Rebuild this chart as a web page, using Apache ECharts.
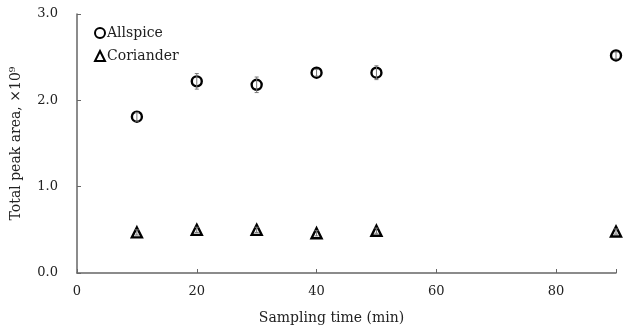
<!DOCTYPE html>
<html>
<head>
<meta charset="utf-8">
<script src="https://cdn.jsdelivr.net/npm/echarts@6/dist/echarts.min.js"></script>
<style>
html, body { margin: 0; padding: 0; background: #fff; }
#main { width: 624px; height: 332px; }
</style>
</head>
<body>
<div id="main"></div>
<script>
// sampling times (min)
var times = [10, 20, 30, 40, 50, 90];
// total peak area, x10^9
var allspice = [1.81, 2.22, 2.18, 2.32, 2.32, 2.52];
var allspiceErr = [0.05, 0.09, 0.09, 0.04, 0.08, 0.04];
var coriander = [0.47, 0.50, 0.50, 0.46, 0.49, 0.48];
var corianderErr = [0.03, 0.03, 0.03, 0.03, 0.03, 0.03];
var xTicks = [0, 20, 40, 60, 80];
var yTicks = [0.0, 1.0, 2.0, 3.0];

var font = '"DejaVu Serif", "Liberation Serif", serif';

var myChart = echarts.init(document.getElementById('main'));

function pairs(xs, ys) {
    var out = [];
    for (var i = 0; i < xs.length; i++) out.push([xs[i], ys[i]]);
    return out;
}
function errData(xs, ys, es) {
    var out = [];
    for (var i = 0; i < xs.length; i++) out.push([xs[i], ys[i] - es[i], ys[i] + es[i]]);
    return out;
}
function errBar(params, api) {
    var lo = api.coord([api.value(0), api.value(1)]);
    var hi = api.coord([api.value(0), api.value(2)]);
    return {
        type: 'group',
        children: [
            { type: 'line', shape: { x1: lo[0], y1: lo[1], x2: hi[0], y2: hi[1] }, style: { stroke: '#777', lineWidth: 1 } },
            { type: 'line', shape: { x1: lo[0] - 2, y1: lo[1], x2: lo[0] + 2, y2: lo[1] }, style: { stroke: '#777', lineWidth: 1 } },
            { type: 'line', shape: { x1: hi[0] - 2, y1: hi[1], x2: hi[0] + 2, y2: hi[1] }, style: { stroke: '#777', lineWidth: 1 } }
        ]
    };
}

var option = {
    animation: false,
    grid: { left: 77, right: 8, top: 14, bottom: 59 },
    legend: {
        orient: 'vertical',
        left: 89,
        top: 21,
        itemGap: 9,
        itemWidth: 10,
        itemHeight: 10,
        textStyle: { fontFamily: font, fontSize: 14, color: '#222', padding: [0, 0, 0, -3] },
        data: [
            { name: 'Allspice', icon: 'circle', itemStyle: { color: '#fff', borderColor: '#000', borderWidth: 2, opacity: 1 } },
            { name: 'Coriander', icon: 'triangle', itemStyle: { color: '#fff', borderColor: '#000', borderWidth: 2, opacity: 1 } }
        ]
    },
    xAxis: {
        type: 'value',
        min: 0,
        max: 90,
        interval: 20,
        name: 'Sampling time (min)',
        nameLocation: 'middle',
        nameGap: 38,
        nameTextStyle: { fontFamily: font, fontSize: 14, color: '#222', padding: [0, 30, 0, 0] },
        axisLine: { lineStyle: { color: '#666', width: 1.5 } },
        axisTick: { inside: true, length: 4, lineStyle: { color: '#666' } },
        axisLabel: {
            fontFamily: font, fontSize: 13, color: '#222', margin: 12,
            formatter: function (v) { return xTicks.indexOf(v) >= 0 ? String(v) : ''; }
        },
        splitLine: { show: false }
    },
    yAxis: {
        type: 'value',
        min: 0,
        max: 3,
        interval: 1,
        name: 'Total peak area, ×10⁹',
        nameLocation: 'middle',
        nameGap: 54,
        nameTextStyle: { fontFamily: font, fontSize: 14, color: '#222' },
        axisLine: { show: true, lineStyle: { color: '#666', width: 1.5 } },
        axisTick: { show: true, inside: true, length: 4, lineStyle: { color: '#666' } },
        axisLabel: {
            fontFamily: font, fontSize: 13, color: '#222', margin: 19,
            formatter: function (v) { return yTicks.indexOf(v) >= 0 ? v.toFixed(1) : ''; }
        },
        splitLine: { show: false }
    },
    series: [
        {
            name: 'Allspice',
            type: 'scatter',
            symbol: 'circle',
            symbolSize: 10,
            itemStyle: { color: 'rgba(255,255,255,0)', borderColor: '#000', borderWidth: 2.4, opacity: 1 },
            data: pairs(times, allspice),
            z: 3
        },
        {
            name: 'Coriander',
            type: 'scatter',
            symbol: 'triangle',
            symbolSize: 10,
            itemStyle: { color: 'rgba(255,255,255,0)', borderColor: '#000', borderWidth: 2.4, opacity: 1 },
            data: pairs(times, coriander),
            z: 3
        },
        {
            type: 'custom',
            renderItem: errBar,
            data: errData(times, allspice, allspiceErr),
            z: 4
        },
        {
            type: 'custom',
            renderItem: errBar,
            data: errData(times, coriander, corianderErr),
            z: 4
        }
    ]
};

myChart.setOption(option);
window.onresize = myChart.resize;
</script>
</body>
</html>
